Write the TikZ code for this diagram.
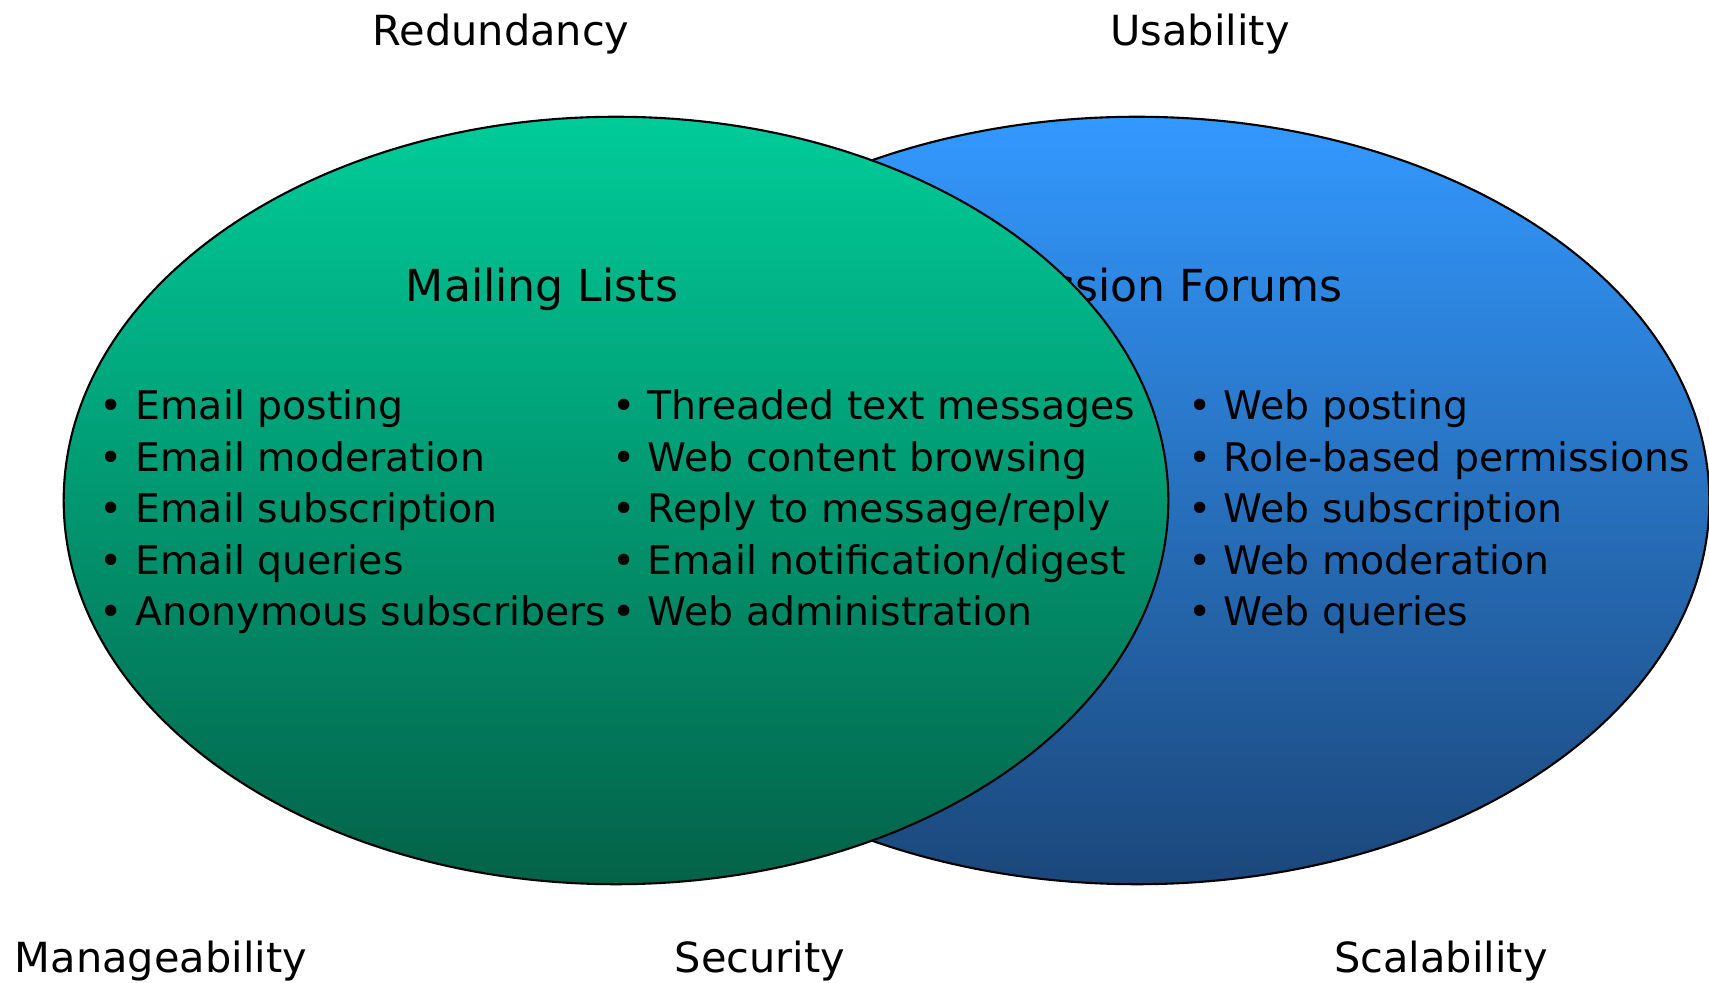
\documentclass[tikz,border=0pt]{standalone}
\usepackage{fontspec}
\setmainfont{DejaVu Sans}
\usepackage{tikz}
\usetikzlibrary{shapes.geometric}
\usetikzlibrary{positioning}

\definecolor{mailtop}{RGB}{0,204,153}
\definecolor{mailbot}{RGB}{3,98,72}
\definecolor{forumtop}{RGB}{51,153,255}
\definecolor{forumbot}{RGB}{27,71,122}

\begin{document}
\begin{tikzpicture}[x=0.01cm,y=-0.01cm]
    \tikzstyle{every node}=[inner sep=0pt,outer sep=0pt]
    \tikzstyle{blob}=[ellipse,draw=black,line width=0.6pt,minimum height=7.67cm]
    \tikzstyle{item}=[anchor=base west,font=\fontsize{11.2pt}{13pt}\selectfont]
    \tikzstyle{title}=[anchor=base,font=\fontsize{12.55pt}{15pt}\selectfont]
    \tikzstyle{quality}=[anchor=base,font=\fontsize{11.8pt}{14pt}\selectfont]

    \useasboundingbox (0,0) rectangle (1709,983);

    \node[blob,minimum width=11.44cm,top color=forumtop,bottom color=forumbot] (forum) at (1137,500.5) {};
    \node[title] (forumtitle) at (1137,302) {Discussion Forums};
    \node[blob,minimum width=11.04cm,top color=mailtop,bottom color=mailbot] (mail) at (616,500.5) {};
    \node[title] (mailtitle) at (542,302) {Mailing Lists};

    \foreach \t [count=\i] in {Email posting,Email moderation,Email subscription,Email queries,Anonymous subscribers}
      \node[item] (mail\i) at (100,420+51.5*\i-51.5) {\textbullet\ \t};
    \foreach \t [count=\i] in {Threaded text messages,Web content browsing,Reply to message/reply,Email notification/digest,Web administration}
      \node[item] (both\i) at (612,420+51.5*\i-51.5) {\textbullet\ \t};
    \foreach \t [count=\i] in {Web posting,Role-based permissions,Web subscription,Web moderation,Web queries}
      \node[item] (forum\i) at (1188,420+51.5*\i-51.5) {\textbullet\ \t};

    \node[quality] (redundancy) at (501,46) {Redundancy};
    \node[quality] (usability) at (1200,46) {Usability};
    \node[quality] (manage) at (161,973) {Manageability};
    \node[quality] (security) at (760,973) {Security};
    \node[quality] (scale) at (1441,973) {Scalability};

\end{tikzpicture}
\end{document}
